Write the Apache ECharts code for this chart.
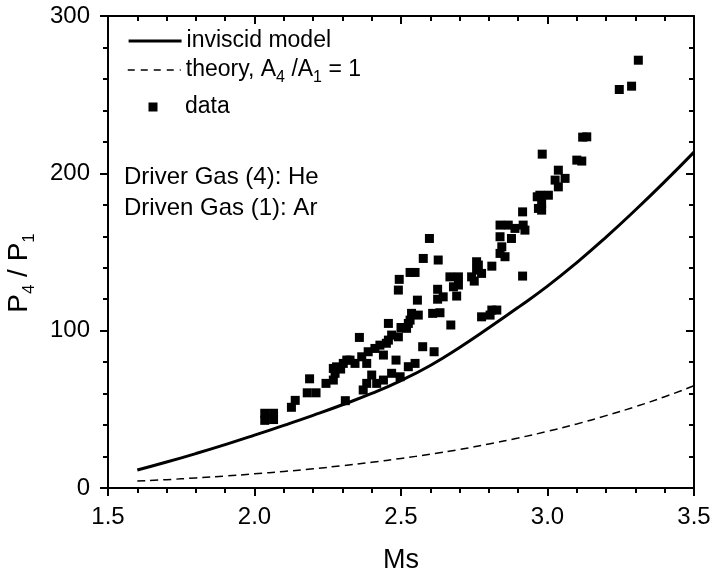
<!DOCTYPE html>
<html>
<head>
<meta charset="utf-8">
<script src="https://cdn.jsdelivr.net/npm/echarts@6/dist/echarts.min.js"></script>
<style>
html,body{margin:0;padding:0;background:#fff;}
#chart{width:711px;height:575px;}
</style>
</head>
<body>
<div id="chart"></div>
<script>
// Inviscid model curve
const msInviscid = [1.6,1.7,1.8,1.9,2.0,2.1,2.2,2.3,2.4,2.5,2.6,2.7,2.8,2.9,3.0,3.1,3.2,3.3,3.4,3.5];
const pInviscid  = [11.4,16.5,21.9,27.6,33.6,39.8,46.2,52.9,60.1,68.3,77.9,89.3,101.8,114.8,128.3,143.3,159.5,176.7,194.7,213.5];
// Theory, A4/A1 = 1 curve
const msTheory = [1.6,1.7,1.8,1.9,2.0,2.1,2.2,2.3,2.4,2.5,2.6,2.7,2.8,2.9,3.0,3.1,3.2,3.3,3.4,3.5];
const pTheory  = [4.4,5.3,6.4,7.6,9.0,10.5,12.2,14.2,16.3,18.8,21.5,24.5,28.0,31.8,36.0,40.7,46.0,51.7,58.0,65.0];
// Measured data
const dataMs = [2.035,2.065,2.035,2.065,2.126,2.139,2.18,2.21,2.188,2.244,2.275,2.294,2.315,2.31,2.269,2.269,2.28,2.303,2.326,2.343,
  2.366,2.388,2.411,2.428,2.44,2.383,2.457,2.468,2.491,2.519,2.531,2.536,2.559,2.358,2.457,2.371,2.383,2.4,2.417,2.44,
  2.468,2.483,2.497,2.525,2.548,2.574,2.613,2.597,2.576,2.627,2.531,2.548,2.494,2.491,2.556,2.625,2.625,2.608,2.633,2.644,
  2.667,2.696,2.679,2.696,2.69,2.67,2.741,2.758,2.764,2.775,2.81,2.775,2.804,2.827,2.81,2.838,2.855,2.838,2.877,2.844,
  2.838,2.866,2.889,2.917,2.923,2.915,2.915,2.965,2.969,2.974,3.003,2.98,2.98,2.982,3.026,3.037,3.06,3.037,3.1,3.117,
  3.134,3.12,3.31,3.245,3.287,2.45,2.50,2.525,2.75,2.758];
const dataP = [47.5,47.5,43.0,43.5,51.3,55.7,60.5,60.5,69.4,66.5,72.9,75.6,81.3,55.5,76.0,68.6,77.0,79.2,81.3,79.2,
  83.4,86.6,88.7,90.8,84.5,79.2,94.0,97.2,96.1,101.5,106.7,111.0,109.9,95.7,104.6,62.3,66.5,71.8,66.5,68.6,
  72.9,81.3,70.7,77.1,79.2,89.8,86.6,158.6,145.9,144.9,137.0,137.0,132.6,125.8,119.4,120.0,126.3,111.0,111.4,121.5,
  134.2,134.2,127.9,129.0,122.0,103.6,134.2,138.5,141.7,136.4,141.0,108.8,109.9,113.1,113.1,149.1,147.0,159.7,158.6,153.3,
  167.1,167.1,165.0,167.1,163.9,175.5,134.7,185.1,177.7,186.1,186.1,180.9,176.6,212.2,195.7,202.0,196.8,191.4,208.4,207.8,
  223.2,223.0,271.9,253.3,255.4,92.0,102.0,104.6,131.5,143.8];
// Axis ticks
const xMin = 1.5, xMax = 3.5, xStep = 0.5;
const yMin = 0, yMax = 300, yStep = 100;

const FONT = 'Liberation Sans, Arial, Helvetica, sans-serif';
const chart = echarts.init(document.getElementById('chart'), null, {renderer: 'canvas'});

const axisLineStyle = {color: '#000', width: 2};
const tickStyle = {color: '#000', width: 2};

const legendText = {color: '#000', fontFamily: FONT, fontSize: 23, lineHeight: 32};
const hiddenSymbol = {color: 'rgba(0,0,0,0)', borderWidth: 0, opacity: 0};

chart.setOption({
  animation: false,
  backgroundColor: '#fff',
  grid: {left: 108, right: 17, top: 16, bottom: 87, containLabel: false, outerBoundsMode: 'none'},
  xAxis: [
    {
      type: 'value', position: 'bottom', min: xMin, max: xMax, interval: xStep,
      name: 'Ms', nameLocation: 'middle', nameGap: 59,
      nameTextStyle: {color: '#000', fontFamily: FONT, fontSize: 27},
      axisLine: {show: true, onZero: false, lineStyle: axisLineStyle},
      axisTick: {show: true, inside: false, length: 8, lineStyle: tickStyle},
      minorTick: {show: true, splitNumber: 5, length: 5, lineStyle: tickStyle},
      axisLabel: {color: '#000', fontFamily: FONT, fontSize: 24, margin: 17,
        formatter: v => v.toFixed(1)},
      splitLine: {show: false}
    },
    {
      type: 'value', position: 'top', min: xMin, max: xMax, interval: xStep,
      axisLine: {show: true, onZero: false, lineStyle: axisLineStyle},
      axisTick: {show: true, inside: true, length: 8, lineStyle: tickStyle},
      minorTick: {show: true, splitNumber: 5, length: 5, lineStyle: tickStyle},
      axisLabel: {show: false},
      splitLine: {show: false}
    }
  ],
  yAxis: [
    {
      type: 'value', position: 'left', min: yMin, max: yMax, interval: yStep,
      name: '{n|P}{s|4}{n| / P}{s|1}', nameLocation: 'middle', nameGap: 70, nameRotate: 90,
      nameTextStyle: {
        color: '#000', fontFamily: FONT, fontSize: 28, lineHeight: 38,
        padding: [0, 42, 0, 0],
        rich: {
          n: {color: '#000', fontFamily: FONT, fontSize: 28, lineHeight: 38, verticalAlign: 'middle'},
          s: {color: '#000', fontFamily: FONT, fontSize: 17, lineHeight: 17, verticalAlign: 'bottom'}
        }
      },
      axisLine: {show: true, onZero: false, lineStyle: axisLineStyle},
      axisTick: {show: true, inside: false, length: 8, lineStyle: tickStyle},
      minorTick: {show: true, splitNumber: 5, length: 5, lineStyle: tickStyle},
      axisLabel: {color: '#000', fontFamily: FONT, fontSize: 24, margin: 18},
      splitLine: {show: false}
    },
    {
      type: 'value', position: 'right', min: yMin, max: yMax, interval: yStep,
      axisLine: {show: true, onZero: false, lineStyle: axisLineStyle},
      axisTick: {show: true, inside: true, length: 8, lineStyle: tickStyle},
      minorTick: {show: true, splitNumber: 5, length: 5, lineStyle: tickStyle},
      axisLabel: {show: false},
      splitLine: {show: false}
    }
  ],
  legend: [
    {
      data: ['inviscid model'], left: 127, top: 25, padding: 0,
      itemWidth: 53, itemHeight: 14, itemGap: 5, selectedMode: false,
      itemStyle: hiddenSymbol,
      lineStyle: {color: '#000', width: 3.2, type: 'solid'},
      textStyle: legendText
    },
    {
      data: ['theory'], left: 127, top: 54, padding: 0,
      itemWidth: 53, itemHeight: 14, itemGap: 5, selectedMode: false,
      itemStyle: hiddenSymbol,
      lineStyle: {color: '#000', width: 1.5, type: [7, 6]},
      formatter: () => '{n|theory, A}{s|4}{n| /A}{s|1}{n| = 1}',
      textStyle: Object.assign({}, legendText, {
        rich: {
          n: {color: '#000', fontFamily: FONT, fontSize: 23, lineHeight: 32, verticalAlign: 'middle'},
          s: {color: '#000', fontFamily: FONT, fontSize: 16, lineHeight: 16, verticalAlign: 'bottom'}
        }
      })
    },
    {
      data: ['data'], left: 148.5, top: 91, padding: 0,
      itemWidth: 9, itemHeight: 9, itemGap: 5, selectedMode: false,
      textStyle: Object.assign({}, legendText, {padding: [0, 0, 0, 22.5]})
    }
  ],
  graphic: [
    {type: 'text', left: 124, top: 165, silent: true,
      style: {text: 'Driver Gas (4): He', fill: '#000', font: '24px ' + FONT}},
    {type: 'text', left: 124, top: 196, silent: true,
      style: {text: 'Driven Gas (1): Ar', fill: '#000', font: '24px ' + FONT}}
  ],
  series: [
    {
      name: 'inviscid model', type: 'line', xAxisIndex: 0, yAxisIndex: 0,
      data: msInviscid.map((m, i) => [m, pInviscid[i]]),
      symbol: 'none', smooth: true,
      lineStyle: {color: '#000', width: 3, type: 'solid'},
      itemStyle: {color: '#000'}, z: 2
    },
    {
      name: 'theory', type: 'line', xAxisIndex: 0, yAxisIndex: 0,
      data: msTheory.map((m, i) => [m, pTheory[i]]),
      symbol: 'none', smooth: true,
      lineStyle: {color: '#000', width: 1.5, type: [8, 5]},
      itemStyle: {color: '#000'}, z: 2
    },
    {
      name: 'data', type: 'scatter', xAxisIndex: 0, yAxisIndex: 0,
      data: dataMs.map((m, i) => [m, dataP[i]]),
      symbol: 'rect', symbolSize: 9,
      itemStyle: {color: '#000', opacity: 1}, z: 3
    }
  ]
});
</script>
</body>
</html>
